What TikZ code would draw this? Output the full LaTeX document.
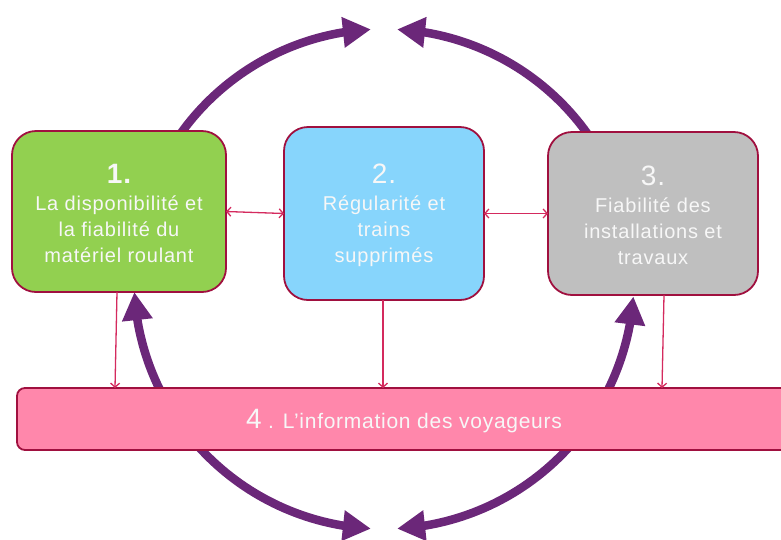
\documentclass[tikz,border=0pt]{standalone}
\usepackage{fontspec}
\setmainfont{Liberation Sans}
\newfontfamily\boxfont[LetterSpace=4]{Liberation Sans}
\newfontfamily\barfont[LetterSpace=3.5]{Liberation Sans}
\usetikzlibrary{arrows.meta,calc,bending}
\definecolor{cgreen}{HTML}{92D050}
\definecolor{cblue}{HTML}{87D5FC}
\definecolor{cgray}{HTML}{BFBFBF}
\definecolor{cpink}{HTML}{FF87AB}
\definecolor{cborder}{HTML}{A0103F}
\definecolor{cpurple}{HTML}{6B2779}
\definecolor{cthin}{HTML}{D42A5E}
\definecolor{ctext}{HTML}{F7F7F7}
\newcommand{\numstrut}{\rule{0pt}{23pt}}
\tikzset{
  box/.style={draw=cborder, line width=1.8pt, rounded corners=24pt, inner sep=0pt,
    outer sep=0pt, text=ctext, align=center,
    font=\boxfont\fontsize{20}{26}\selectfont},
  cycarrow/.style={draw=cpurple, line width=8.5pt, -{Triangle[length=28pt,width=29pt]}},
  conn/.style={draw=cthin, line width=1.3pt, -{Straight Barb[length=4pt,width=9pt]}},
  dconn/.style={draw=cthin, line width=1.3pt, {Straight Barb[length=4pt,width=9pt]}-{Straight Barb[length=4pt,width=9pt]}}
}
\begin{document}
\begin{tikzpicture}[x=1pt,y=-1pt]
\useasboundingbox (0,0) rectangle (781,539);
\clip (0,0) rectangle (781,539);
\coordinate (o) at (384,279);
% cycle arrows
\draw[cycarrow] (o) ++(214:250) arc[start angle=214,end angle=267,radius=250];
\draw[cycarrow] (o) ++(326:250) arc[start angle=326,end angle=273,radius=250];
\draw[cycarrow] (o) ++(27:250) arc[start angle=27,end angle=4,radius=250];
\draw[cycarrow] (o) ++(39:250) arc[start angle=39,end angle=87,radius=250];
\draw[cycarrow] (o) ++(141:250) arc[start angle=141,end angle=93,radius=250];
\draw[cycarrow] (o) ++(153:250) arc[start angle=153,end angle=177,radius=250];
% boxes
\node[box, fill=cgreen, minimum width=214pt, minimum height=161pt] (b1) at (119,211.5)
  {\numstrut{\fontsize{28}{28}\selectfont\bfseries 1.}\\[1pt]La disponibilité et\\la fiabilité du\\matériel roulant};
\node[box, fill=cblue, minimum width=200pt, minimum height=173pt] (b2) at (384,213.5)
  {\numstrut{\fontsize{28}{28}\selectfont 2.}\\[1pt]Régularité et\\trains\\supprimés};
\node[box, fill=cgray, minimum width=210pt, minimum height=163pt] (b3) at (653,213.5)
  {\numstrut{\fontsize{28}{28}\selectfont 3.}\\[1pt]Fiabilité des\\installations et\\travaux};
\node[box, fill=cpink, rounded corners=8pt, minimum width=774pt, minimum height=62pt,
  text depth=0pt, font=\barfont\fontsize{21}{25}\selectfont] (b4) at (404,419)
  {{\fontsize{28}{28}\selectfont 4} . L’information des voyageurs};
% connectors
\draw[dconn] (b1.east) -- (b2.west);
\draw[dconn] (b2.east) -- (b3.west);
\draw[conn] ($(b1.south)+(-2,0)$) -- ($(b1.south |- b4.north)+(-4,0)$);
\draw[conn] ($(b2.south)+(-1,0)$) -- ($(b2.south |- b4.north)+(-1,0)$);
\draw[conn] ($(b3.south)+(11,0)$) -- ($(b3.south |- b4.north)+(9,0)$);
\end{tikzpicture}
\end{document}
